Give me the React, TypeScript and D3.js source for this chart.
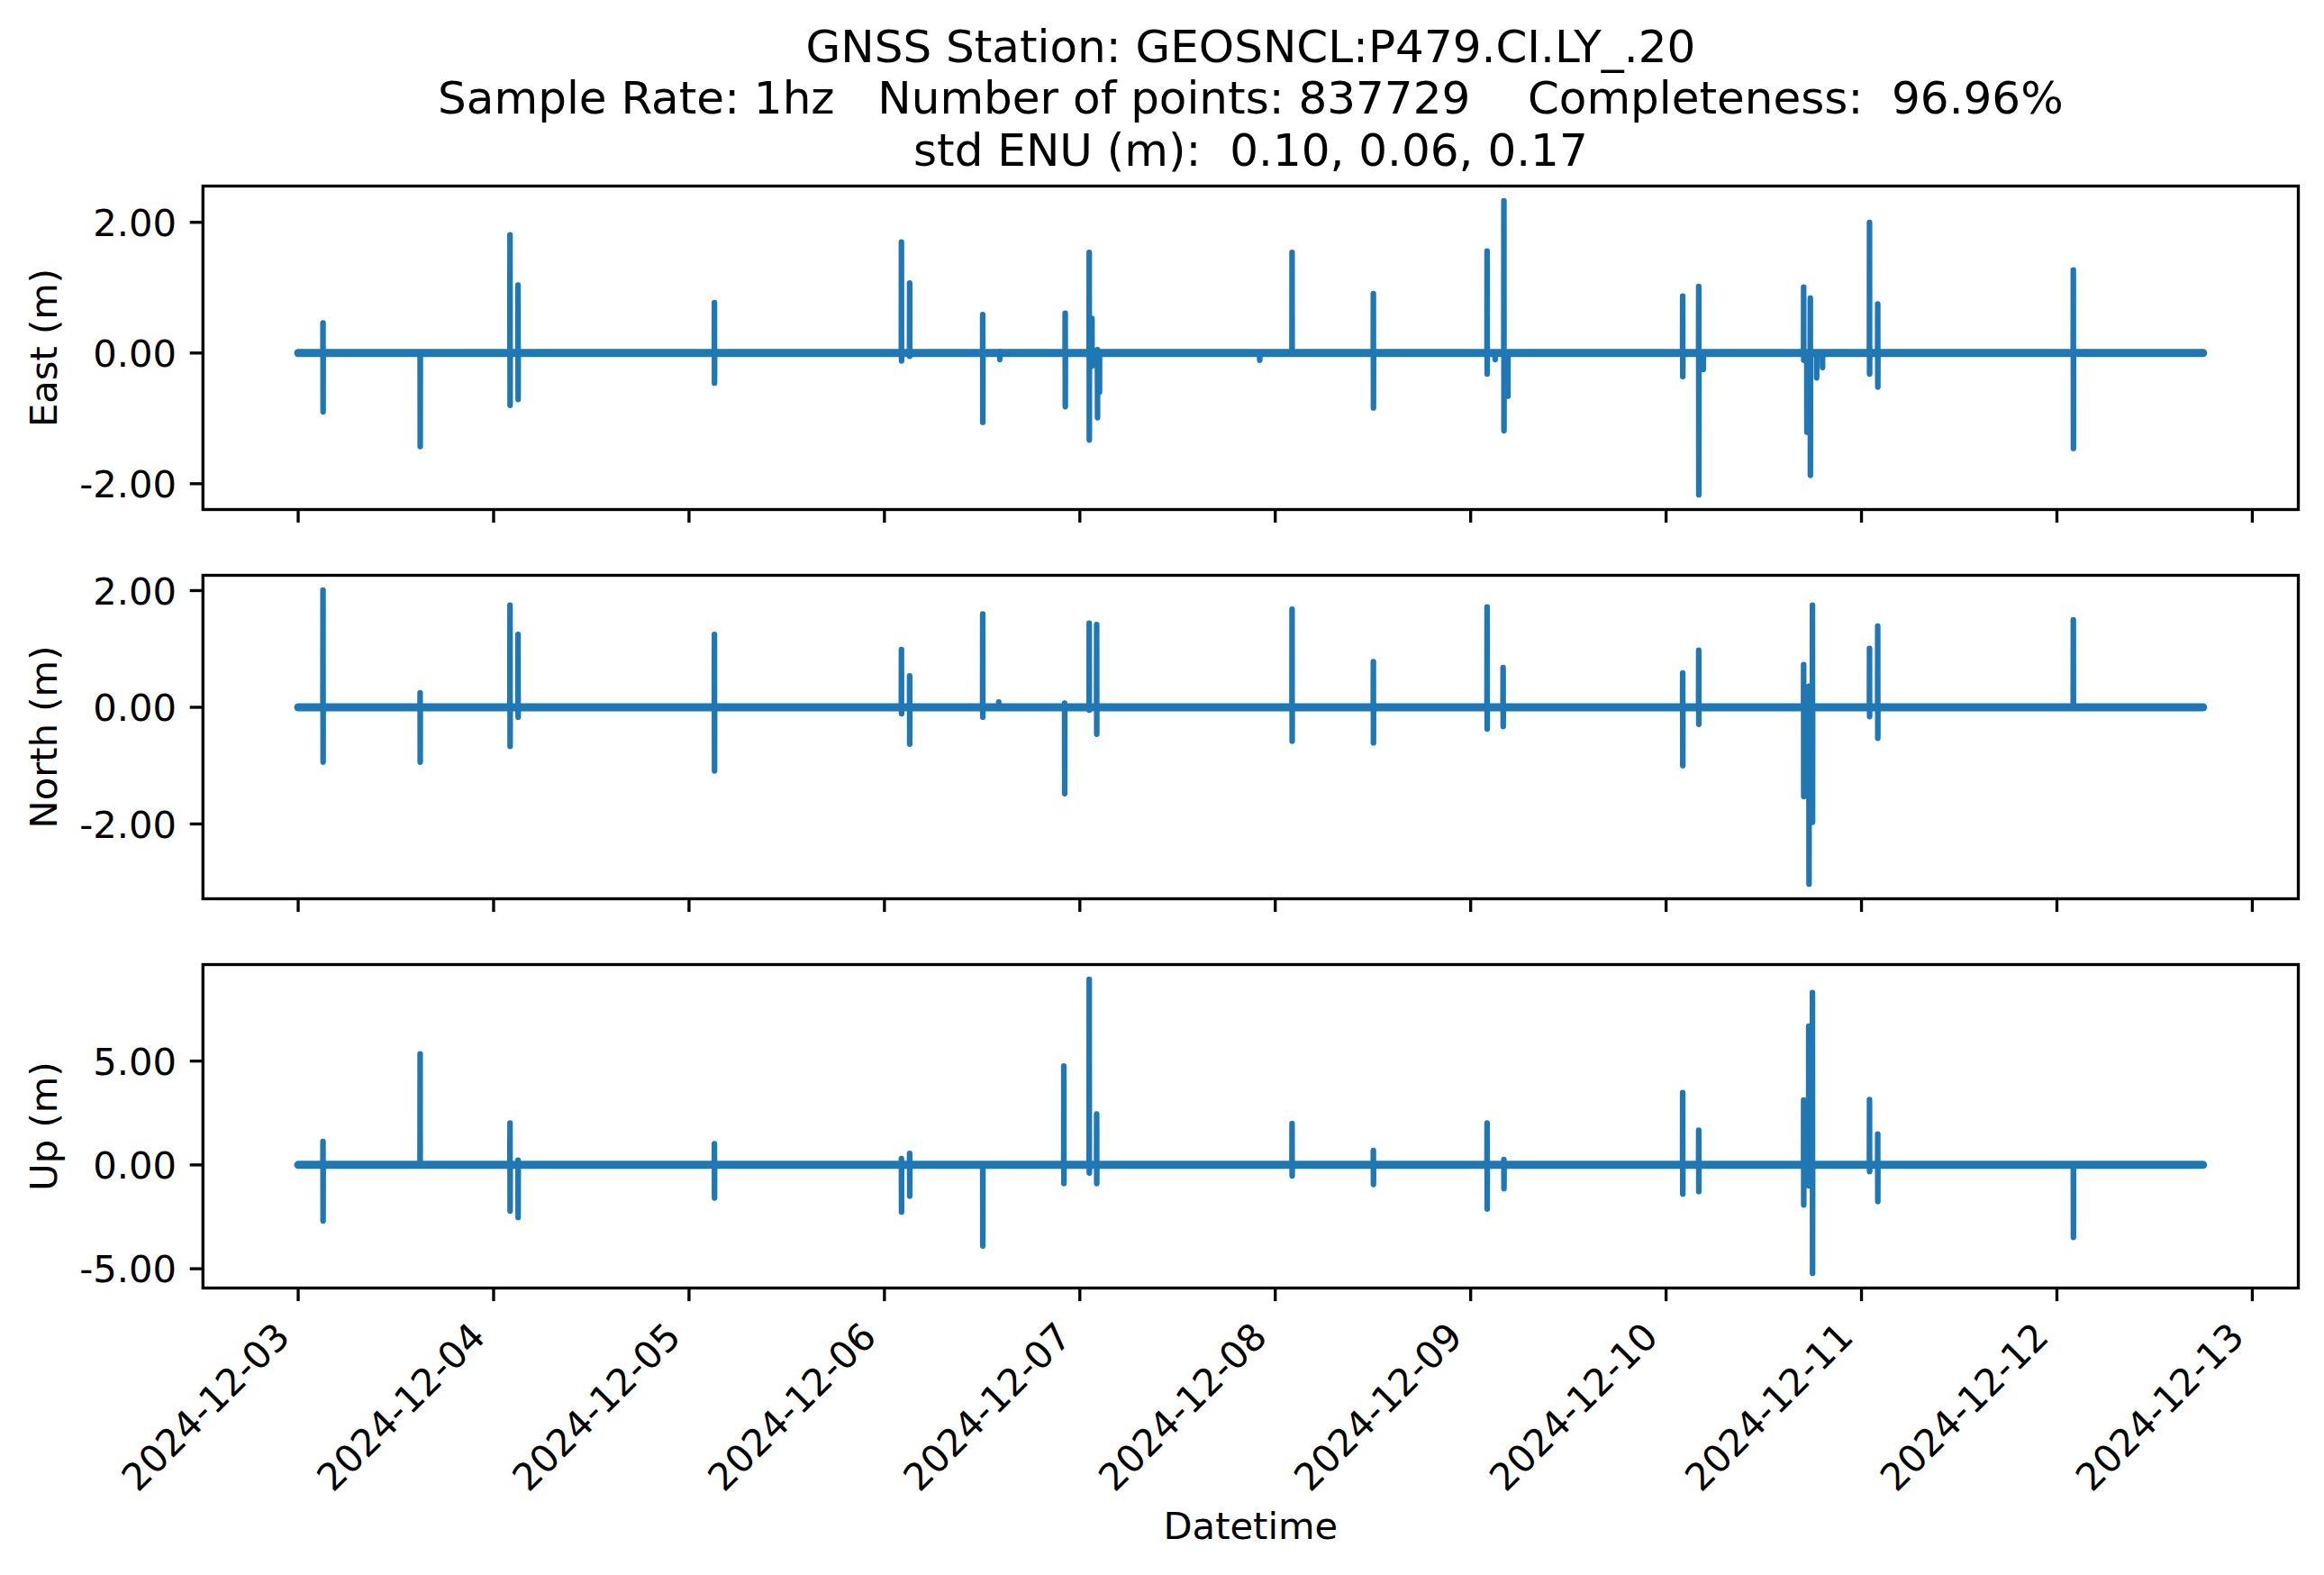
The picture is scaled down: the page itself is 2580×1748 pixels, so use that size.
import React from 'react';
import * as d3 from 'd3';

// fractional days since 2024-12-03 00:00 UTC: [day, high, low]
const eastSpikes: [number, number, number][] = [
  [0.127, 0.46, -0.9],
  [0.624, 0, -1.43],
  [1.084, 1.81, -0.8],
  [1.125, 1.04, -0.71],
  [2.13, 0.77, -0.46],
  [3.087, 1.7, -0.12],
  [3.129, 1.07, -0.05],
  [3.503, 0.59, -1.06],
  [3.59, 0.02, -0.1],
  [3.925, 0.61, -0.82],
  [4.048, 1.54, -1.33],
  [4.062, 0.53, -0.2],
  [4.09, 0.05, -0.99],
  [4.1, 0, -0.6],
  [4.92, 0, -0.11],
  [5.086, 1.54, 0],
  [5.502, 0.91, -0.84],
  [6.084, 1.56, -0.32],
  [6.125, 0, -0.1],
  [6.17, 2.33, -1.19],
  [6.19, 0, -0.66],
  [7.085, 0.87, -0.36],
  [7.167, 1.02, -2.17],
  [7.19, 0, -0.25],
  [7.704, 1.01, -0.11],
  [7.72, 0, -1.21],
  [7.738, 0.84, -1.87],
  [7.77, 0, -0.38],
  [7.8, 0, -0.22],
  [8.041, 2.0, -0.32],
  [8.083, 0.75, -0.52],
  [9.084, 1.27, -1.46],
];

const northSpikes: [number, number, number][] = [
  [0.127, 2.01, -0.94],
  [0.624, 0.25, -0.94],
  [1.084, 1.75, -0.67],
  [1.125, 1.25, -0.17],
  [2.13, 1.25, -1.09],
  [3.087, 0.99, -0.11],
  [3.129, 0.54, -0.63],
  [3.503, 1.6, -0.17],
  [3.585, 0.09, 0],
  [3.922, 0.07, -1.48],
  [4.048, 1.44, -0.05],
  [4.086, 1.42, -0.46],
  [5.086, 1.68, -0.58],
  [5.502, 0.78, -0.61],
  [6.084, 1.72, -0.37],
  [6.166, 0.68, -0.33],
  [7.085, 0.59, -1.0],
  [7.167, 0.98, -0.29],
  [7.704, 0.73, -1.53],
  [7.731, 0.36, -3.03],
  [7.749, 1.75, -1.97],
  [8.041, 1.01, -0.16],
  [8.083, 1.39, -0.53],
  [9.084, 1.5, 0],
];

const upSpikes: [number, number, number][] = [
  [0.127, 1.13, -2.7],
  [0.624, 5.35, 0],
  [1.084, 2.02, -2.22],
  [1.125, 0.23, -2.53],
  [2.13, 1.02, -1.59],
  [3.087, 0.3, -2.27],
  [3.129, 0.55, -1.5],
  [3.503, 0, -3.9],
  [3.918, 4.76, -0.89],
  [4.048, 8.94, -0.39],
  [4.086, 2.45, -0.89],
  [5.086, 2.0, -0.53],
  [5.502, 0.69, -0.94],
  [6.084, 2.02, -2.12],
  [6.17, 0.26, -1.14],
  [7.085, 3.48, -1.4],
  [7.167, 1.67, -1.28],
  [7.704, 3.12, -1.93],
  [7.73, 6.68, -1.0],
  [7.749, 8.3, -5.22],
  [8.041, 3.15, -0.32],
  [8.083, 1.49, -1.76],
  [9.084, 0, -3.49],
];

const eastTicks = [-2, 0, 2];
const northTicks = [-2, 0, 2];
const upTicks = [-5, 0, 5];

const xTickLabels = [
  '2024-12-03', '2024-12-04', '2024-12-05', '2024-12-06', '2024-12-07', '2024-12-08',
  '2024-12-09', '2024-12-10', '2024-12-11', '2024-12-12', '2024-12-13',
];

const titleLines = [
  'GNSS Station: GEOSNCL:P479.CI.LY_.20',
  'Sample Rate: 1hz   Number of points: 837729    Completeness:  96.96%',
  'std ENU (m):  0.10, 0.06, 0.17',
];

const START = Date.UTC(2024, 11, 3);
const END_DAY = 9.748;
const DAY_MS = 864e5;

const W = 2580;
const H = 1748;
const LEFT = 225.3;
const RIGHT = 2551.5;
const PANEL_TOP = 206.5;
const PANEL_H = 359;
const PANEL_GAP = 73;
const FONT = 'DejaVu Sans, Liberation Sans, sans-serif';
const TICK_FS = 41.67;
const LINE_COLOR = '#1f77b4';

const panels = [
  { label: 'East (m)', spikes: eastSpikes, ticks: eastTicks },
  { label: 'North (m)', spikes: northSpikes, ticks: northTicks },
  { label: 'Up (m)', spikes: upSpikes, ticks: upTicks },
];

const toDate = (d: number) => new Date(START + d * DAY_MS);

function buildSeries(spikes: [number, number, number][]) {
  const pts: [Date, number][] = [[toDate(0), 0]];
  spikes.forEach(([d, hi, lo]) => {
    pts.push([toDate(d - 0.0005), 0], [toDate(d), hi], [toDate(d + 0.0005), lo], [toDate(d + 0.001), 0]);
  });
  pts.push([toDate(END_DAY), 0]);
  return pts;
}

export default function App() {
  const x = d3
    .scaleUtc()
    .domain([toDate(-0.05 * END_DAY), toDate(1.05 * END_DAY)])
    .range([LEFT, RIGHT]);

  const tickDates = xTickLabels.map((s) => d3.utcParse('%Y-%m-%d')(s) as Date);
  const fmt = d3.utcFormat('%Y-%m-%d');

  const asc = 0.928 * TICK_FS;
  const desc = 0.236 * TICK_FS;

  return (
    <div style={{ position: 'absolute', left: 0, top: 0 }}>
      <svg width={W} height={H} style={{ display: 'block', background: '#fff' }} fontFamily={FONT}>
        <rect width={W} height={H} fill="#fff" />
        {titleLines.map((t, i) => (
          <text
            key={i}
            x={(LEFT + RIGHT) / 2}
            y={68.5 + i * 57.5}
            fontSize={50}
            textAnchor="middle"
            style={{ whiteSpace: 'pre' }}
          >
            {t}
          </text>
        ))}
        {panels.map((p, i) => {
          const top = PANEL_TOP + i * (PANEL_H + PANEL_GAP);
          const bottom = top + PANEL_H;
          const pts = buildSeries(p.spikes);
          const ext = d3.extent(pts, (d) => d[1]) as [number, number];
          const pad = (ext[1] - ext[0]) * 0.05;
          const y = d3.scaleLinear().domain([ext[0] - pad, ext[1] + pad]).range([bottom, top]);
          const line = d3
            .line<[Date, number]>()
            .x((d) => x(d[0]))
            .y((d) => y(d[1]));
          const clipId = `clip${i}`;
          return (
            <g key={i}>
              <clipPath id={clipId}>
                <rect x={LEFT} y={top} width={RIGHT - LEFT} height={PANEL_H} />
              </clipPath>
              <g clipPath={`url(#${clipId})`}>
                <line
                  x1={x(toDate(0))}
                  x2={x(toDate(END_DAY))}
                  y1={y(0)}
                  y2={y(0)}
                  stroke={LINE_COLOR}
                  strokeWidth={9}
                  strokeLinecap="round"
                />
                <path
                  d={line(pts) as string}
                  fill="none"
                  stroke={LINE_COLOR}
                  strokeWidth={6.25}
                  strokeLinejoin="round"
                  strokeLinecap="round"
                />
              </g>
              <rect
                x={LEFT}
                y={top}
                width={RIGHT - LEFT}
                height={PANEL_H}
                fill="none"
                stroke="#000"
                strokeWidth={3.33}
              />
              {p.ticks.map((t) => (
                <g key={t}>
                  <line x1={LEFT} x2={LEFT - 14.58} y1={y(t)} y2={y(t)} stroke="#000" strokeWidth={3.33} />
                  <text
                    x={LEFT - 14.58 - 14.58}
                    y={y(t)}
                    dy={0.3645 * TICK_FS}
                    fontSize={TICK_FS}
                    textAnchor="end"
                  >
                    {d3.format('.2f')(t).replace('−', '-')}
                  </text>
                </g>
              ))}
              {tickDates.map((d, k) => (
                <line
                  key={k}
                  x1={x(d)}
                  x2={x(d)}
                  y1={bottom}
                  y2={bottom + 14.58}
                  stroke="#000"
                  strokeWidth={3.33}
                />
              ))}
              <text
                transform={`translate(63,${(top + bottom) / 2}) rotate(-90)`}
                fontSize={TICK_FS}
                textAnchor="middle"
              >
                {p.label}
              </text>
              {i === panels.length - 1 &&
                tickDates.map((d, k) => {
                  const ax = x(d) - 0.707 * desc;
                  const ay = bottom + 14.58 + 14.58 + 0.707 * asc;
                  return (
                    <text
                      key={k}
                      transform={`translate(${ax},${ay}) rotate(-45)`}
                      fontSize={TICK_FS}
                      textAnchor="end"
                    >
                      {fmt(d)}
                    </text>
                  );
                })}
            </g>
          );
        })}
        <text x={(LEFT + RIGHT) / 2} y={1708} fontSize={TICK_FS} textAnchor="middle">
          Datetime
        </text>
      </svg>
    </div>
  );
}
